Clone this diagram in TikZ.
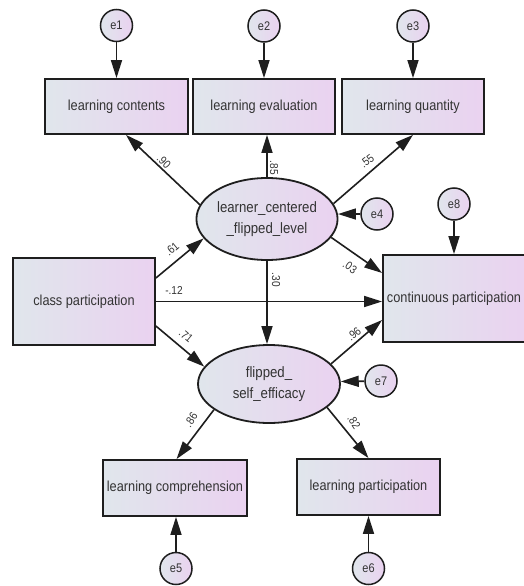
\documentclass[tikz,border=0pt]{standalone}
\usepackage{fontspec}
\setmainfont[FakeStretch=0.88]{Liberation Sans}
\usetikzlibrary{arrows.meta,shapes.geometric}
\definecolor{fl}{HTML}{E0E6EC}
\definecolor{fr}{HTML}{EAD2F0}
\definecolor{ink}{HTML}{1E1E1E}
\definecolor{txt}{HTML}{333333}
\begin{document}
\begin{tikzpicture}[x=1pt,y=-1pt,
  obs/.style={draw=ink, line width=1.8pt, left color=fl, right color=fr, rectangle, inner sep=0pt, text=txt, font=\fontsize{14.5}{16}\selectfont},
  lat/.style={draw=ink, line width=1.8pt, left color=fl, right color=fr, ellipse, inner sep=0pt, text=txt, font=\fontsize{15}{21}\selectfont, align=center},
  err/.style={draw=ink, line width=1.5pt, left color=fl, right color=fr, circle, minimum size=32pt, inner sep=0pt, text=txt, font=\fontsize{12.5}{14}\selectfont},
  arr/.style={-{Triangle[length=18pt,width=11pt]}, line width=1.6pt, draw=ink},
  lab/.style={font=\fontsize{11.5}{13}\selectfont, text=txt, inner sep=0pt}]
\useasboundingbox (0,0) rectangle (524,586);
% observed
\node[obs, minimum width=143pt, minimum height=55pt] (lc) at (116.5,106.5) {learning contents};
\node[obs, minimum width=142pt, minimum height=55pt] (le) at (264,106.5) {learning evaluation};
\node[obs, minimum width=142pt, minimum height=55pt] (lq) at (413,106.5) {learning quantity};
\node[obs, minimum width=142pt, minimum height=87pt] (cp) at (84,301.5) {class participation};
\node[obs, minimum width=144pt, minimum height=87pt] (cont) at (455,298.5) {continuous participation\hspace*{2pt}};
\node[obs, minimum width=144pt, minimum height=56pt] (lcomp) at (175,488) {learning comprehension};
\node[obs, minimum width=143pt, minimum height=56pt] (lpart) at (368.5,487) {learning participation};
% latent
\node[lat, minimum width=140pt, minimum height=82pt] (lcfl) at (267,219) {learner\_centered\\\_flipped\_level};
\node[lat, minimum width=142pt, minimum height=78pt] (fse) at (269,384) {flipped\_\\self\_efficacy};
% errors
\node[err] (e1) at (116.5,25.5) {e1};
\node[err] (e2) at (264,26) {e2};
\node[err] (e3) at (413,26) {e3};
\node[err] (e4) at (377,214) {e4};
\node[err] (e8) at (454,204) {e8};
\node[err] (e7) at (381,381) {e7};
\node[err] (e5) at (176,568.5) {e5};
\node[err] (e6) at (368.5,568.5) {e6};
% error arrows
\draw[arr] (e1) -- (lc.north);
\draw[arr] (e2) -- (le.north);
\draw[arr] (e3) -- (lq.north);
\draw[arr] (e8) -- (e8 |- cont.north);
\draw[arr] (e4) -- (lcfl.4);
\draw[arr] (e7) -- (fse.2);
\draw[arr] (e5) -- (e5 |- lcomp.south);
\draw[arr] (e6) -- (e6 |- lpart.south);
% structural
\draw[arr] (lcfl.168) -- ([xshift=9.5pt]lc.south);
\draw[arr] (lcfl.north) -- (lcfl.north |- le.south);
\draw[arr] (lcfl.13) -- (lq.south);
\draw[arr] ([yshift=23.5pt]cp.east) -- (lcfl.197);
\draw[arr] (cp.east) -- (cp.east -| cont.west);
\draw[arr] ([yshift=-24.5pt]cp.east) -- (fse.165);
\draw[arr] (lcfl.-16) -- ([yshift=25.5pt]cont.west);
\draw[arr] (lcfl.south) -- (lcfl.south |- fse.north);
\draw[arr] (fse.18) -- ([yshift=-21.5pt]cont.west);
\draw[arr] (fse.205) -- ([xshift=1.5pt]lcomp.north);
\draw[arr] (fse.-22) -- (lpart.north);
% labels
\node[lab, rotate=-45] (l1) at (164,162) {.90};
\node[lab, rotate=-90] (l2) at (274,168) {.85};
\node[lab, rotate=38] (l3) at (367,161) {.55};
\node[lab, rotate=40] (l4) at (172,249) {.61};
\node[lab] (l5) at (174,290) {-.12};
\node[lab, rotate=-40] (l6) at (186,336) {.71};
\node[lab, rotate=-35] (l7) at (350,267) {.03};
\node[lab, rotate=-90] (l8) at (276,280) {.30};
\node[lab, rotate=40] (l9) at (354,334) {.96};
\node[lab, rotate=57] (l10) at (191,420) {.86};
\node[lab, rotate=-57] (l11) at (354,422) {.82};
\end{tikzpicture}
\end{document}
